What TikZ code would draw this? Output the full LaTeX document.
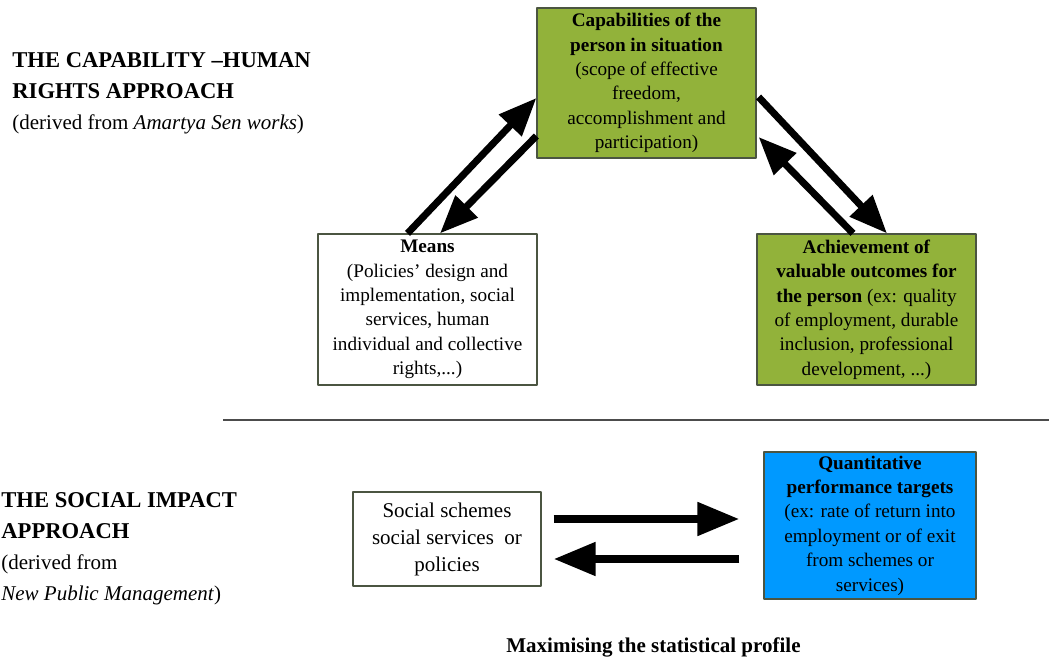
\documentclass[tikz,border=0pt]{standalone}
\usepackage{fontspec}
\setmainfont{Liberation Serif}
\usetikzlibrary{arrows.meta,calc}
\definecolor{capgreen}{RGB}{146,178,58}
\definecolor{targetblue}{RGB}{0,153,255}
\definecolor{boxframe}{RGB}{75,85,65}
\newcommand{\subline}{\fontsize{10.5}{15.5}\selectfont}
\begin{document}
\begin{tikzpicture}[x=0.5pt,y=-0.5pt,line join=round,
	box/.style={draw=boxframe,line width=0.6pt,align=center,inner sep=1pt,font=\fontsize{9.6}{12.2}\selectfont},
	greenbox/.style={box,fill=capgreen},
	bigarrow/.style={line width=3.5pt,-{Triangle[length=19pt,width=15pt]}},
	flatarrow/.style={line width=4pt,-{Triangle[length=21pt,width=16pt]}},
	heading/.style={align=left,inner sep=0pt,anchor=north west,font=\fontsize{11.3}{15.5}\selectfont}]
	\useasboundingbox (0,0) rectangle (1049,662);
	% upper part
	\node[heading] (caphead) at (12,52) {\textbf{THE CAPABILITY –HUMAN}\\\textbf{RIGHTS APPROACH}\\{\subline(derived from \textit{Amartya Sen works})}};
	\node[greenbox,minimum width=109.5pt,minimum height=75pt] (cap) at (646.5,83) {\textbf{Capabilities of the}\\\textbf{person in situation}\\(scope of effective\\freedom,\\accomplishment and\\participation)};
	\node[box,minimum width=109.5pt,minimum height=75.5pt] (means) at (427.5,309.5) {\textbf{Means}\\(Policies’ design and\\implementation, social\\services, human\\individual and collective\\rights,...)};
	\node[greenbox,minimum width=109.5pt,minimum height=75.5pt] (achieve) at (866.5,309.5) {\textbf{Achievement of}\\\textbf{valuable outcomes for}\\\textbf{the person} (ex: quality\\of employment, durable\\inclusion, professional\\development, ...)};
	\draw[bigarrow] ($(means.north)+(-20,0)$) -- ($(cap.west)+(0,15)$);
	\draw[bigarrow] ($(cap.west)+(0,53)$) -- ($(means.north)+(12.5,0)$);
	\draw[bigarrow] ($(cap.east)+(2,14)$) -- ($(achieve.north)+(20.5,0)$);
	\draw[bigarrow] ($(achieve.north)+(-13.5,0)$) -- ($(cap.east)+(2,54)$);
	% separator
	\draw[black!70,line width=1pt] (223,420) -- (1049,420);
	% lower part
	\node[heading] (impacthead) at (1,492.5) {\textbf{THE SOCIAL IMPACT}\\\textbf{APPROACH}\\{\subline(derived from}\\{\subline\textit{New Public Management})}};
	\node[box,minimum width=94pt,minimum height=47pt,font=\fontsize{10.5}{13.5}\selectfont] (social) at (447,539) {Social schemes\\social services~ or\\policies};
	\node[box,fill=targetblue,minimum width=106pt,minimum height=73.5pt] (target) at (870,525.5) {\textbf{Quantitative}\\\textbf{performance targets}\\(ex: rate of return into\\employment or of exit\\from schemes or\\services)};
	\draw[flatarrow] ($(social.east)+(12,-20)$) -- ($(target.west)+(-24,-6.5)$);
	\draw[flatarrow] ($(target.west)+(-24,33.5)$) -- ($(social.east)+(12,20)$);
	\node[font=\bfseries\fontsize{10.5}{12}\selectfont] (maxlabel) at (653.5,647) {Maximising the statistical profile};
\end{tikzpicture}
\end{document}
